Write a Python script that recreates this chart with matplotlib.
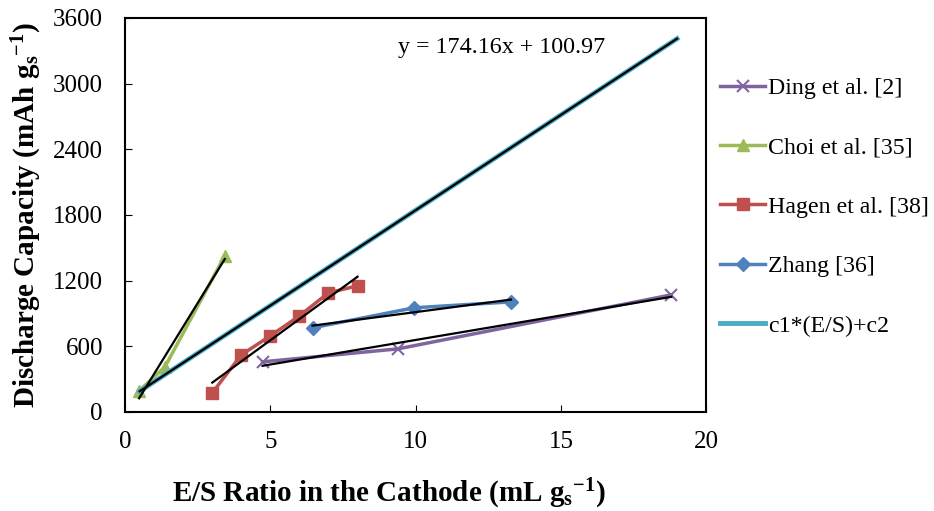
import numpy as np
import matplotlib
matplotlib.use('Agg')
import matplotlib.pyplot as plt

plt.rcParams['font.family'] = ['Liberation Serif', 'DejaVu Serif']
plt.rcParams['mathtext.fontset'] = 'custom'
plt.rcParams['mathtext.rm'] = 'Liberation Serif'
plt.rcParams['mathtext.it'] = 'Liberation Serif:italic'
plt.rcParams['mathtext.bf'] = 'Liberation Serif:bold'

# data
ding_x = [4.73, 9.4, 18.8]
ding_y = [457, 576, 1069]
choi_x = [0.48, 1.37, 3.43]
choi_y = [192, 411, 1426]
hagen_x = [3.0, 4.0, 5.0, 6.0, 7.0, 8.0]
hagen_y = [174, 521, 695, 877, 1088, 1152]
zhang_x = [6.45, 9.95, 13.28]
zhang_y = [768, 951, 1005]
model_x = [0.5, 19.0]
model_y = [188, 3410]

fig = plt.figure(figsize=(9.34, 5.11), dpi=100)
ax = fig.add_axes([0.134, 0.194, 0.622, 0.771])

ax.plot(ding_x, ding_y, color='#8064A2', lw=2.5, marker='x', ms=8, mew=1.5, label='Ding et al. [2]')
ax.plot(choi_x, choi_y, color='#9BBB59', lw=2.5, marker='^', ms=8, label='Choi et al. [35]')
ax.plot(hagen_x, hagen_y, color='#C0504D', lw=2.5, marker='s', ms=8, label='Hagen et al. [38]')
ax.plot(zhang_x, zhang_y, color='#4F81BD', lw=2.5, marker='D', ms=7, label='Zhang [36]')
ax.plot(model_x, model_y, color='#4BACC6', lw=3.5, label='c1*(E/S)+c2')

# linear trendlines
for xs, ys in [(ding_x, ding_y), (choi_x, choi_y), (hagen_x, hagen_y),
               (zhang_x, zhang_y), (model_x, model_y)]:
    k, b = np.polyfit(xs, ys, 1)
    xx = np.array([min(xs), max(xs)])
    ax.plot(xx, k * xx + b, color='black', lw=1.6)

ax.text(9.4, 3330, 'y = 174.16x + 100.97', fontsize=17.3, va='center')

ax.set_xlim(0, 20)
ax.set_ylim(0, 3600)
ax.set_xticks([0, 5, 10, 15, 20])
ax.set_yticks(range(0, 3601, 600))
ax.tick_params(direction='in', labelsize=18, length=5)
ax.tick_params(axis='y', pad=16)
ax.tick_params(axis='x', pad=14)
for s in ax.spines.values():
    s.set_linewidth(1.5)

ax.set_xlabel(r'E/S Ratio in the Cathode (mL g$_\mathbf{s}$$^\mathbf{-1}$)', fontsize=21,
              fontweight='bold')
ax.set_ylabel(r'Discharge Capacity (mAh g$_\mathbf{s}$$^\mathbf{-1}$)', fontsize=21,
              fontweight='bold')
ax.xaxis.set_label_coords(0.454, -0.165)
ax.yaxis.set_label_coords(-0.14, 0.5)

ax.legend(loc='center left', bbox_to_anchor=(1.0, 0.52), frameon=False, fontsize=17.2,
          labelspacing=1.58, handlelength=1.85, handletextpad=0.15, borderaxespad=0.2)

fig.savefig('out.png', dpi=100)
